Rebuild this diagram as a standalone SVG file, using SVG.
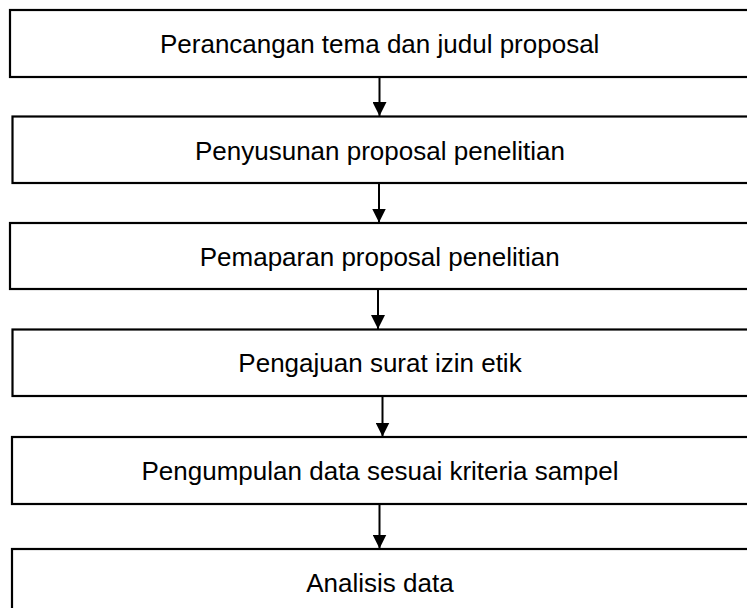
<svg xmlns="http://www.w3.org/2000/svg" width="747" height="608" viewBox="0 0 747 608">
<defs>
<style>
.box{fill:#fff;stroke:#000;stroke-width:2.2}
.lbl{font-family:"Liberation Sans",Arial,sans-serif;font-size:26px;fill:#000;text-anchor:middle}
.conn line{stroke:#000;stroke-width:2}
</style>
<marker id="ah" markerUnits="userSpaceOnUse" markerWidth="14" markerHeight="14" viewBox="0 0 14 14" refX="14" refY="7" orient="auto">
<path d="M0,0 L14,7 L0,14 Z" fill="#000"/>
</marker>
</defs>
<rect width="747" height="608" fill="#fff"/>
<g id="n1"><rect class="box" x="10" y="10" width="740" height="67"/><text class="lbl" x="379.7" y="53">Perancangan tema dan judul proposal</text></g>
<g id="n2"><rect class="box" x="12.5" y="116.5" width="740" height="66.5"/><text class="lbl" x="380" y="160">Penyusunan proposal penelitian</text></g>
<g id="n3"><rect class="box" x="10" y="223" width="740" height="66"/><text class="lbl" x="379.7" y="265.5">Pemaparan proposal penelitian</text></g>
<g id="n4"><rect class="box" x="12.5" y="329.5" width="740" height="66.5"/><text class="lbl" x="380" y="372">Pengajuan surat izin etik</text></g>
<g id="n5"><rect class="box" x="12" y="437" width="740" height="67"/><text class="lbl" x="380" y="480">Pengumpulan data sesuai kriteria sampel</text></g>
<g id="n6"><rect class="box" x="12" y="549" width="740" height="70"/><text class="lbl" x="380" y="592">Analisis data</text></g>
<g id="connectors" class="conn">
<line x1="379.5" y1="77" x2="379.5" y2="116" marker-end="url(#ah)"/>
<line x1="379" y1="183" x2="379" y2="222.5" marker-end="url(#ah)"/>
<line x1="378" y1="289" x2="378" y2="329" marker-end="url(#ah)"/>
<line x1="382.5" y1="396" x2="382.5" y2="436.5" marker-end="url(#ah)"/>
<line x1="379.5" y1="504" x2="379.5" y2="548.5" marker-end="url(#ah)"/>
</g>
</svg>
